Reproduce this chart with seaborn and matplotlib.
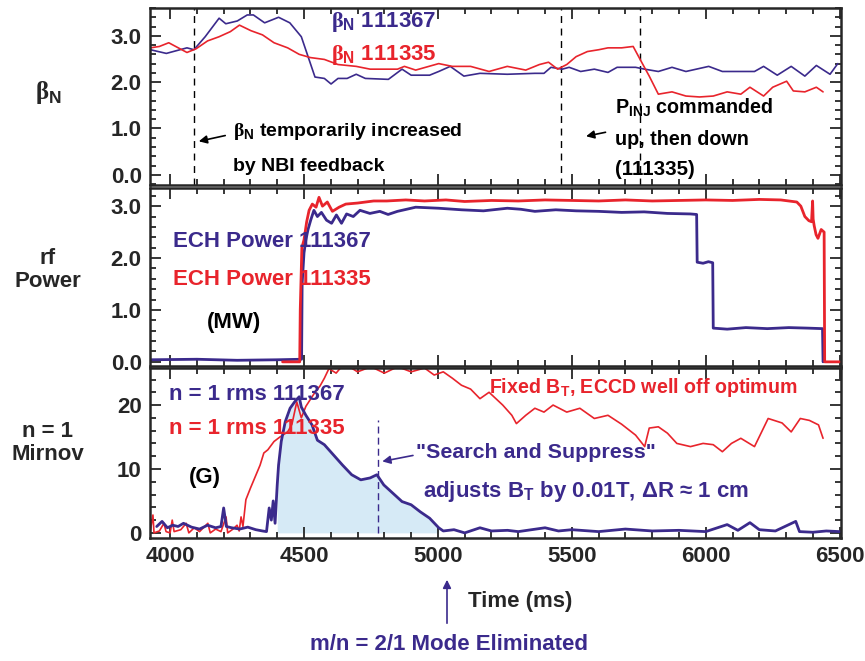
import matplotlib
matplotlib.use("Agg")
import matplotlib.pyplot as plt
from matplotlib import font_manager
from matplotlib.ticker import MultipleLocator
import seaborn as sns
import pandas as pd
import numpy as np

# ---------------- data ----------------
# beta_N, shot 111367 (blue)
bn_b_t = [3926, 3986, 4063, 4089, 4131, 4183, 4208, 4251, 4288, 4311, 4353, 4405, 4447, 4490, 4541,
          4576, 4601, 4627, 4661, 4695, 4729, 4815, 4866, 4900, 4969, 5003, 5046, 5097, 5157, 5259,
          5362, 5396, 5422, 5464, 5490, 5533, 5584, 5635, 5669, 5738, 5772, 5823, 5874, 5926, 6011,
          6062, 6114, 6182, 6216, 6267, 6319, 6370, 6413, 6464, 6493]
bn_b_v = [2.70, 2.62, 2.74, 2.70, 2.98, 3.38, 3.26, 3.32, 3.45, 3.45, 3.28, 3.40, 3.28, 2.98, 2.11,
          2.08, 1.96, 2.08, 2.08, 2.17, 2.08, 2.06, 2.28, 2.15, 2.15, 2.23, 2.34, 2.13, 2.19, 2.17,
          2.19, 2.19, 2.32, 2.28, 2.32, 2.23, 2.28, 2.21, 2.32, 2.32, 2.28, 2.23, 2.32, 2.23, 2.34,
          2.23, 2.23, 2.23, 2.34, 2.15, 2.34, 2.13, 2.36, 2.17, 2.40]
# beta_N, shot 111335 (red)
bn_r_t = [3926, 3960, 3995, 4063, 4097, 4140, 4183, 4225, 4259, 4302, 4345, 4388, 4439, 4482, 4524,
          4576, 4627, 4695, 4747, 4849, 4875, 4917, 5003, 5054, 5122, 5191, 5259, 5328, 5379, 5413,
          5447, 5481, 5516, 5558, 5601, 5635, 5686, 5729, 5755, 5789, 5823, 5874, 5926, 5977, 6028,
          6080, 6131, 6165, 6216, 6250, 6302, 6327, 6370, 6413, 6438]
bn_r_v = [2.74, 2.77, 2.85, 2.64, 2.72, 2.89, 2.98, 3.09, 3.23, 3.11, 3.02, 2.85, 2.74, 2.60, 2.53,
          2.49, 2.38, 2.34, 2.28, 2.28, 2.34, 2.26, 2.40, 2.34, 2.34, 2.23, 2.34, 2.26, 2.38, 2.43,
          2.28, 2.38, 2.55, 2.66, 2.70, 2.74, 2.74, 2.77, 2.49, 2.13, 1.74, 1.79, 1.70, 1.68, 1.70,
          1.79, 1.74, 1.89, 1.70, 1.89, 2.02, 1.81, 1.79, 1.89, 1.79]
bn_marks = [4088, 5460, 5755]

# ECH power (MW), shot 111367 (blue)
ech_b_t = [3925, 4100, 4250, 4400, 4491, 4493, 4500, 4507, 4515, 4525, 4537, 4550, 4565, 4584, 4603,
           4621, 4640, 4659, 4684, 4709, 4746, 4783, 4814, 4849, 4917, 5003, 5088, 5170, 5259, 5310,
           5362, 5440, 5516, 5600, 5686, 5770, 5857, 5943, 5966, 5968, 5990, 6010, 6026, 6028, 6080,
           6150, 6230, 6310, 6380, 6436, 6438]
ech_b_v = [0.04, 0.05, 0.03, 0.04, 0.05, 1.50, 2.10, 2.35, 2.55, 2.73, 2.92, 2.80, 2.88, 2.73, 2.67,
           2.83, 2.67, 2.85, 2.80, 2.92, 2.86, 2.90, 2.84, 2.90, 2.98, 2.96, 2.93, 2.91, 2.96, 2.94,
           2.90, 2.93, 2.91, 2.90, 2.88, 2.89, 2.86, 2.85, 2.84, 1.92, 1.90, 1.93, 1.91, 0.65, 0.63,
           0.66, 0.64, 0.66, 0.65, 0.64, 0.00]
# ECH power (MW), shot 111335 (red)
ech_r_t = [4420, 4484, 4486, 4492, 4500, 4510, 4519, 4531, 4545, 4556, 4569, 4587, 4606, 4631, 4656,
           4700, 4760, 4809, 4880, 4950, 5030, 5100, 5200, 5300, 5400, 5500, 5600, 5700, 5800, 5900,
           6000, 6100, 6200, 6280, 6340, 6355, 6370, 6385, 6395, 6399, 6401, 6405, 6412, 6419, 6431,
           6442, 6444, 6500]
ech_r_v = [0.00, 0.00, 1.00, 2.20, 2.35, 2.70, 2.92, 3.04, 2.98, 3.17, 3.00, 3.08, 2.90, 2.98, 3.04,
           3.06, 3.10, 3.10, 3.12, 3.10, 3.12, 3.09, 3.11, 3.10, 3.12, 3.11, 3.10, 3.12, 3.10, 3.11,
           3.12, 3.11, 3.13, 3.12, 3.08, 3.00, 2.80, 2.72, 2.70, 3.10, 2.75, 2.62, 2.45, 2.38, 2.55,
           2.50, 0.00, 0.00]

# n=1 Mirnov rms (G), shot 111367 (blue)
mir_b_t = [3950, 3970, 3990, 4010, 4030, 4050, 4080, 4110, 4140, 4170, 4190, 4200, 4210, 4230, 4260,
           4290, 4320, 4345, 4360, 4370, 4378, 4385, 4392, 4400, 4405, 4415, 4430, 4448, 4465, 4482,
           4490, 4507, 4530, 4550, 4576, 4610, 4644, 4678, 4712, 4747, 4772, 4798, 4832, 4866, 4900,
           4934, 4969, 5003, 5020, 5060, 5100, 5157, 5200, 5260, 5300, 5400, 5450, 5500, 5600, 5700,
           5800, 5900, 6000, 6080, 6120, 6165, 6200, 6260, 6336, 6350, 6400, 6450, 6500]
mir_b_v = [1.0, 1.8, 0.8, 1.2, 1.0, 1.5, 0.9, 0.6, 1.2, 0.8, 1.0, 3.9, 1.0, 0.8, 0.6,
           0.9, 0.5, 0.3, 0.2, 3.9, 2.0, 5.0, 1.5, 7.5, 10.6, 14.3, 17.4, 19.5, 20.5, 21.3,
           19.7, 18.4, 16.9, 14.5, 13.8, 12.2, 10.6, 9.1, 8.3, 8.6, 9.1, 7.5, 6.2, 4.9, 4.4,
           3.3, 2.3, 0.8, 0.3, 0.5, 0.0, 0.8, 0.3, 0.4, 0.2, 0.8, 0.3, 0.5, 0.2, 0.6,
           0.3, 0.4, 0.2, 1.3, 0.4, 1.6, 0.5, 0.3, 1.8, 0.2, 0.1, 0.3, 0.2]
# n=1 Mirnov rms (G), shot 111335 (red)
mir_r_t = [3925, 3936, 3940, 3960, 3977, 3985, 4000, 4008, 4015, 4040, 4060, 4070, 4090, 4110, 4141,
           4150, 4170, 4190, 4209, 4215, 4235, 4250, 4258, 4265, 4272, 4283, 4300, 4320, 4336, 4350,
           4365, 4388, 4410, 4439, 4455, 4473, 4490, 4507, 4541, 4560, 4576, 4593, 4620, 4650, 4700,
           4750, 4800, 4850, 4900, 4950, 4986, 5020, 5054, 5088, 5122, 5157, 5191, 5242, 5276, 5293,
           5328, 5362, 5396, 5430, 5481, 5530, 5584, 5635, 5686, 5738, 5772, 5789, 5823, 5857, 5892,
           5943, 5990, 6028, 6062, 6096, 6131, 6182, 6233, 6285, 6319, 6353, 6387, 6421, 6438]
mir_r_v = [0.0, 2.8, 0.0, 0.3, 1.5, 0.2, 0.0, 2.0, 0.2, 0.5, 1.5, 0.0, 0.8, 0.2, 1.5,
           0.0, 0.6, 0.2, 2.5, 0.0, 0.6, 1.2, 0.3, 2.5, 1.0, 5.2, 7.0, 9.0, 10.6, 12.5,
           13.0, 14.3, 15.0, 15.8, 17.0, 20.5, 18.0, 19.8, 22.0, 23.0, 24.2, 25.7, 25.0, 26.5, 25.2,
           26.0, 25.0, 26.0, 25.2, 25.8, 24.7, 25.2, 24.2, 23.1, 22.5, 21.0, 22.0, 20.0, 18.4, 17.1,
           18.4, 19.5, 18.9, 20.0, 18.9, 19.5, 17.9, 18.4, 17.0, 15.3, 13.5, 16.4, 16.6, 15.6, 14.0,
           13.5, 14.0, 13.8, 12.7, 14.0, 14.8, 13.5, 17.9, 17.2, 15.8, 17.9, 17.6, 16.9, 14.8]
mir_fill_range = [4396, 5011]
mir_mark = 4775

x_ticks = [4000, 4500, 5000, 5500, 6000, 6500]

# ---------------- style ----------------
sns.set_style("ticks")
names = {f.name for f in font_manager.fontManager.ttflist}
NARROW = "Liberation Sans Narrow" if "Liberation Sans Narrow" in names else "Liberation Sans"
plt.rcParams["font.family"] = [NARROW, "DejaVu Sans"]
plt.rcParams["font.weight"] = "bold"
plt.rcParams["mathtext.fontset"] = "custom"
plt.rcParams["mathtext.rm"] = NARROW + ":bold"
plt.rcParams["mathtext.it"] = NARROW + ":bold"
plt.rcParams["mathtext.bf"] = NARROW + ":bold"
plt.rcParams["mathtext.sf"] = "Liberation Serif"

BLUE = "#3b2a8c"
RED = "#e8242c"
FILL = "#d6eaf6"
FS = 16

fig = plt.figure(figsize=(8.65, 6.61), dpi=100)
L, W = 150 / 865, 691 / 865
ax1 = fig.add_axes([L, 1 - 185 / 661, W, 177 / 661])
ax2 = fig.add_axes([L, 1 - 366 / 661, W, 178 / 661])
ax3 = fig.add_axes([L, 1 - 538 / 661, W, 170 / 661])

def line(ax, t, v, color, lw):
    df = pd.DataFrame({"t": t, "v": v})
    sns.lineplot(data=df, x="t", y="v", ax=ax, color=color, lw=lw,
                 estimator=None, sort=False, legend=False)

# panel 1
for t in bn_marks:
    ax1.axvline(t, color="black", lw=1.0, ls=(0, (5, 4)))
line(ax1, bn_b_t, bn_b_v, BLUE, 1.2)
line(ax1, bn_r_t, bn_r_v, RED, 1.2)

# panel 2
line(ax2, ech_b_t, ech_b_v, BLUE, 2.0)
line(ax2, ech_r_t, ech_r_v, RED, 2.0)

# panel 3
bt = np.array(mir_b_t); bv = np.array(mir_b_v)
m = (bt >= mir_fill_range[0]) & (bt <= mir_fill_range[1])
ax3.fill_between(bt[m], 0, bv[m], color=FILL, lw=0, zorder=0)
line(ax3, mir_r_t, mir_r_v, RED, 1.2)
line(ax3, mir_b_t, mir_b_v, BLUE, 2.0)
ax3.axvline(mir_mark, ymin=0.03, ymax=0.695, color=BLUE, lw=1.0, ls=(0, (5, 3)))

lims = [(-0.22, 3.6), (-0.08, 3.35), (-0.8, 25.8)]
for ax, yl in zip([ax1, ax2, ax3], lims):
    ax.set_xlim(3925, 6505)
    ax.set_ylim(*yl)
    ax.set_xlabel("")
    ax.set_ylabel("")
    ax.set_xticks(x_ticks)
    ax.xaxis.set_minor_locator(MultipleLocator(100))
    ax.tick_params(which="both", direction="in", top=True, right=True, width=1.3,
                   labelsize=FS, pad=6)
    ax.tick_params(which="major", length=8)
    ax.tick_params(which="minor", length=4)
    for s in ax.spines.values():
        s.set_linewidth(1.8)

for ax in (ax1, ax2):
    ax.yaxis.set_minor_locator(MultipleLocator(0.2))
    ax.set_yticks([0, 1, 2, 3])
    ax.set_yticklabels(["0.0", "1.0", "2.0", "3.0"], fontweight="bold")
    ax.tick_params(labelbottom=False)
ax3.set_yticks([0, 10, 20])
ax3.set_yticklabels(["0", "10", "20"], fontweight="bold")
ax3.yaxis.set_minor_locator(MultipleLocator(2))
ax3.set_xticklabels([str(v) for v in x_ticks], fontweight="bold")

# ---------------- texts ----------------
kw = dict(fontweight="bold", va="center", ha="left")
ax1.text(4600, 3.30, r"$\mathsf{\beta}_{N}$ 111367", color=BLUE, fontsize=16, **kw)
ax1.text(4600, 2.59, r"$\mathsf{\beta}_{N}$ 111335", color=RED, fontsize=16, **kw)
ax1.text(4235, 0.93, r"$\mathsf{\beta}_{N}$ temporarily increased", color="black", fontsize=14, **kw)
ax1.text(4235, 0.17, "by NBI feedback", color="black", fontsize=14, **kw)
ax1.annotate("", xy=(4097, 0.71), xytext=(4216, 0.86),
             arrowprops=dict(arrowstyle="-|>", color="black", lw=1.2, mutation_scale=12))
ax1.text(5662, 1.45, r"P$_{INJ}$ commanded", color="black", fontsize=14.2, **kw)
ax1.text(5662, 0.76, "up, then down", color="black", fontsize=14.2, **kw)
ax1.text(5662, 0.11, "(111335)", color="black", fontsize=14.8, **kw)
ax1.annotate("", xy=(5543, 0.82), xytext=(5636, 0.93),
             arrowprops=dict(arrowstyle="-|>", color="black", lw=1.2, mutation_scale=12))

ax2.text(4011, 2.31, "ECH Power 111367", color=BLUE, fontsize=16, **kw)
ax2.text(4011, 1.58, "ECH Power 111335", color=RED, fontsize=16, **kw)
ax2.text(4138, 0.75, "(MW)", color="black", fontsize=16, **kw)

ax3.text(3996, 21.6, "n = 1 rms 111367", color=BLUE, fontsize=16, **kw)
ax3.text(3996, 16.4, "n = 1 rms 111335", color=RED, fontsize=16, **kw)
ax3.text(4071, 8.6, "(G)", color="black", fontsize=16, **kw)
ax3.text(5192, 22.8, r"Fixed B$_{T}$, ECCD well off optimum", color=RED, fontsize=14.1, **kw)
ax3.text(4917, 12.5, "\"Search and Suppress\"", color=BLUE, fontsize=15.4, **kw)
ax3.text(4943, 6.4, r"adjusts B$_{T}$ by 0.01T, ΔR ≈ 1 cm", color=BLUE, fontsize=16, **kw)
ax3.annotate("", xy=(4782, 11.1), xytext=(4917, 12.2),
             arrowprops=dict(arrowstyle="-|>", color=BLUE, lw=1.2, mutation_scale=12))

# y-axis titles
fig.text(48 / 865, 1 - 93 / 661, r"$\mathsf{\beta}_{N}$", fontsize=FS + 2, ha="center", va="center")
fig.text(48 / 865, 1 - 270 / 661, "rf\nPower", fontsize=FS, fontweight="bold",
         ha="center", va="center", linespacing=1.1)
fig.text(48 / 865, 1 - 443 / 661, "n = 1\nMirnov", fontsize=FS, fontweight="bold",
         ha="center", va="center", linespacing=1.1)

fig.text(520 / 865, 1 - 602 / 661, "Time (ms)", fontsize=FS, fontweight="bold",
         ha="center", va="center")
fig.text(449 / 865, 1 - 645 / 661, "m/n = 2/1 Mode Eliminated", fontsize=FS, fontweight="bold",
         color=BLUE, ha="center", va="center")
fig.add_artist(matplotlib.patches.FancyArrowPatch(
    (447 / 865, 1 - 626 / 661), (447 / 865, 1 - 577 / 661), transform=fig.transFigure,
    arrowstyle="-|>", mutation_scale=12, color=BLUE, lw=1.2))

fig.savefig("out.png", dpi=100)
